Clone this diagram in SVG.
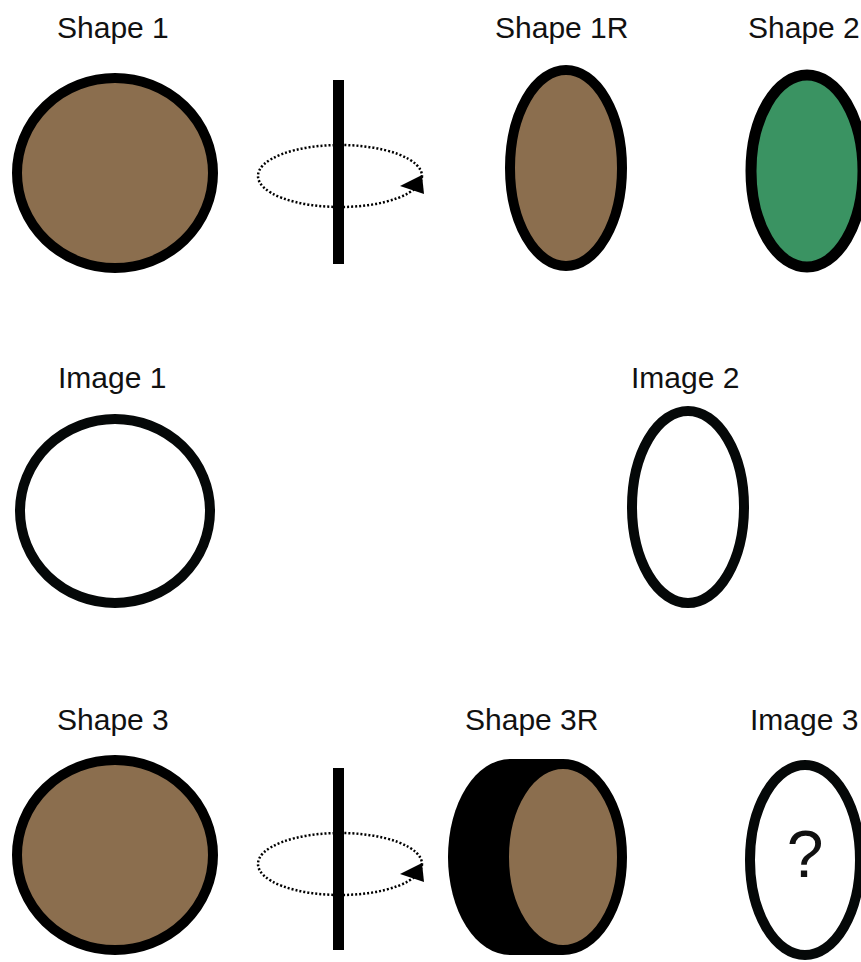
<svg xmlns="http://www.w3.org/2000/svg" width="861" height="962" viewBox="0 0 861 962">
<style>
.lbl{font-family:"Liberation Sans",Arial,sans-serif;font-size:30px;fill:#111}
.brown{fill:#8b6e4e;stroke:#000;stroke-width:10}
.ring{fill:#fff;stroke:#050808;stroke-width:10}
.orbit{fill:none;stroke:#000;stroke-width:2.5;stroke-dasharray:2 2}
</style>
<rect width="861" height="962" fill="#fff"/>
<g id="shape1">
<text class="lbl" x="57" y="38">Shape 1</text>
<ellipse class="brown" cx="115" cy="173" rx="98" ry="95"/>
</g>
<g id="rotation1">
<ellipse class="orbit" cx="340" cy="176" rx="82" ry="31"/>
<rect x="333" y="80" width="11" height="184" fill="#000"/>
<polygon points="400,186 422,175 424,194" fill="#000"/>
</g>
<g id="shape1r">
<text class="lbl" x="495" y="38">Shape 1R</text>
<ellipse class="brown" cx="566" cy="168" rx="56" ry="98" stroke-width="9"/>
</g>
<g id="shape2">
<text class="lbl" x="748" y="38">Shape 2</text>
<ellipse cx="807" cy="171" rx="56" ry="96" fill="#3a9362" stroke="#000" stroke-width="11"/>
</g>
<g id="image1">
<text class="lbl" x="58" y="388">Image 1</text>
<ellipse class="ring" cx="115" cy="511" rx="95" ry="92"/>
</g>
<g id="image2">
<text class="lbl" x="631" y="388">Image 2</text>
<ellipse class="ring" cx="688" cy="507" rx="56" ry="96"/>
</g>
<g id="shape3">
<text class="lbl" x="57" y="730">Shape 3</text>
<ellipse class="brown" cx="115" cy="855" rx="98" ry="95"/>
</g>
<g id="rotation2">
<ellipse class="orbit" cx="340" cy="864" rx="82" ry="31"/>
<rect x="333" y="768" width="11" height="182" fill="#000"/>
<polygon points="400,874 422,863 424,882" fill="#000"/>
</g>
<g id="shape3r">
<text class="lbl" x="465" y="730">Shape 3R</text>
<ellipse cx="510" cy="857" rx="62" ry="98" fill="#000"/>
<rect x="510" y="759" width="53" height="196" fill="#000"/>
<ellipse class="brown" cx="563" cy="857" rx="59" ry="93" stroke-width="9"/>
</g>
<g id="image3">
<text class="lbl" x="750" y="730">Image 3</text>
<ellipse class="ring" cx="805" cy="860" rx="55" ry="95"/>
<text x="805" y="877" text-anchor="middle" font-family="Liberation Sans,Arial,sans-serif" font-size="66" fill="#111">?</text>
</g>
</svg>
